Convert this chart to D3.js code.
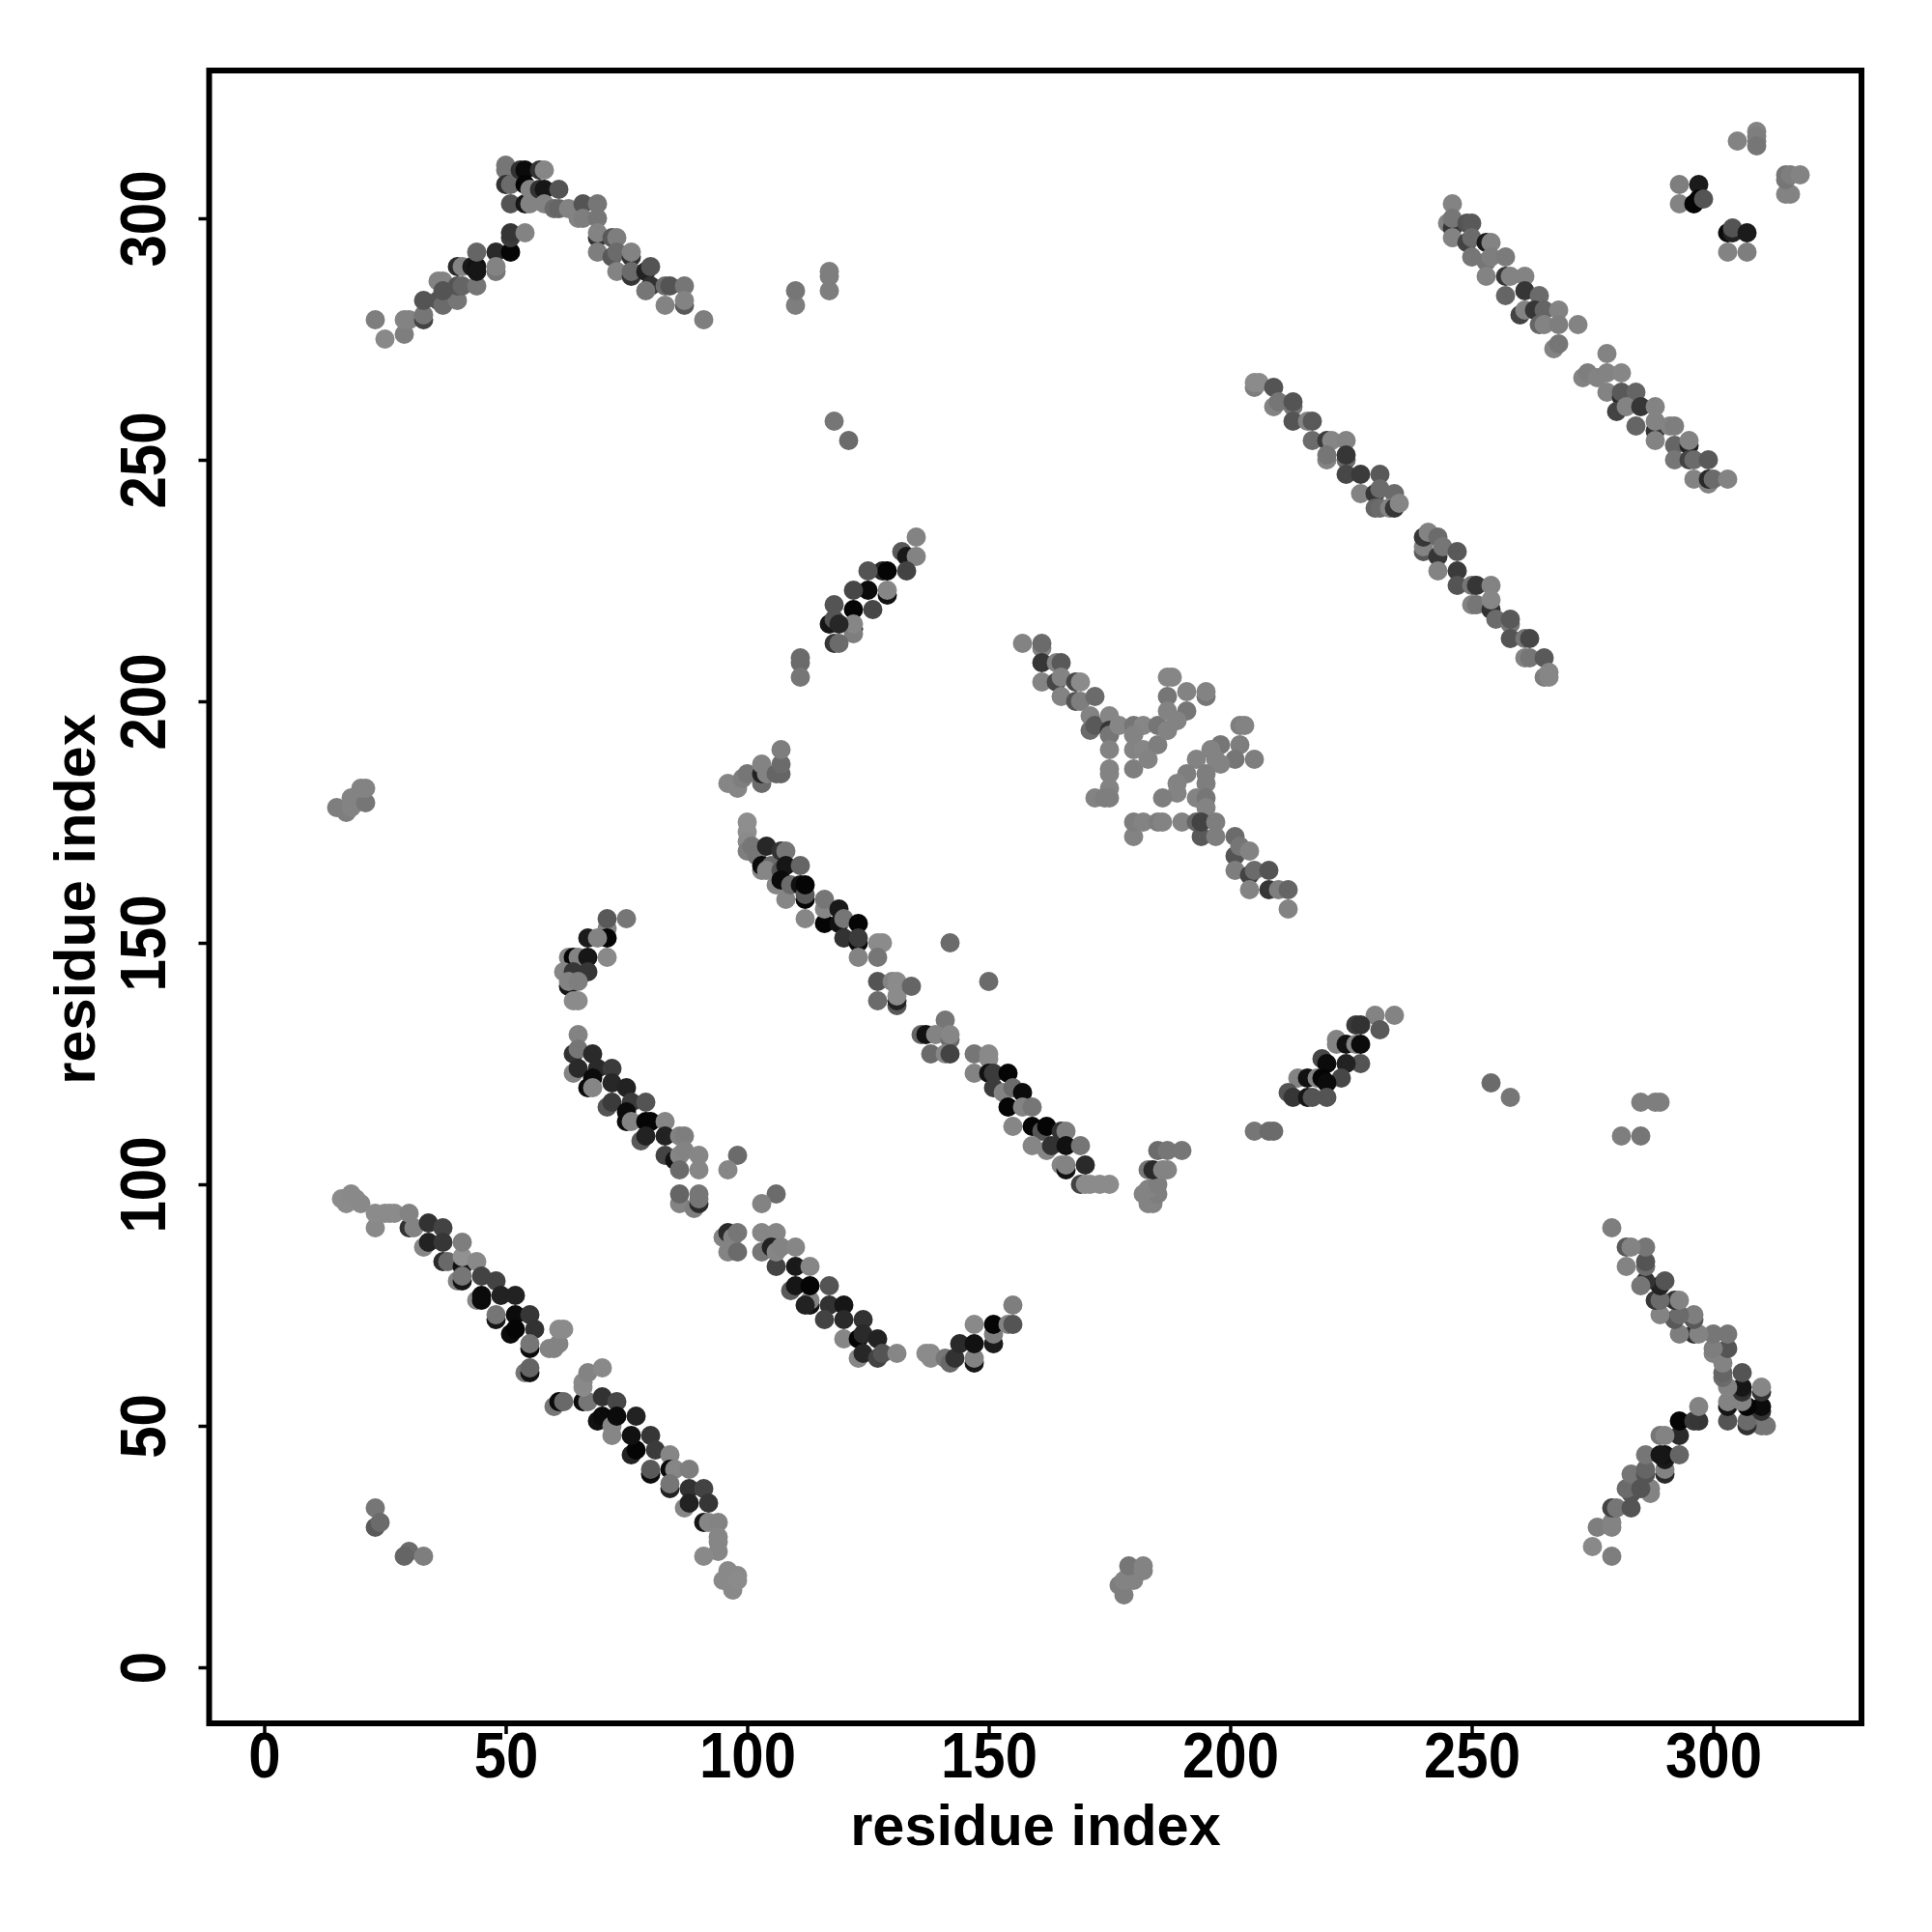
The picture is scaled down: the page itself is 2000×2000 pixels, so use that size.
<!DOCTYPE html>
<html><head><meta charset="utf-8">
<script src="https://cdn.jsdelivr.net/npm/d3@7"></script>
<style>html,body{margin:0;background:#fff}svg{display:block}</style></head>
<body><svg id="c" width="2000" height="2000"></svg>
<script>
const xTicks=[0,50,100,150,200,250,300];
const yTicks=[0,50,100,150,200,250,300];
const axisLabel="residue index";
// each point: [residue x, residue y, gray level]
const strandA=[[16,97,132],[19,97,132],[17,96,132],[20,96,130],[18,98,130],[23,91,130],[23,94,132],[25,94,132],[26,94,132],[27,94,132],[30,91,48],[31,91,125],[30,94,125],[33,87,128],[34,88,32],[34,92,48],[37,91,64],[37,88,51],[37,84,40],[38,84,100],[41,83,16],[41,85,138],[41,88,120],[44,84,130],[40,80,125],[41,80,21],[41,81,112],[45,81,64],[48,80,64],[44,76,128],[45,76,10],[45,77,10],[48,72,21],[48,73,112],[49,77,32],[52,77,32],[51,69,10],[52,73,10],[55,73,51],[52,70,5],[56,70,48],[55,66,10],[55,67,112],[59,66,125],[60,66,125],[61,67,125],[61,70,132],[62,70,132],[54,61,112],[55,61,16],[55,62,96],[60,54,112],[61,55,10],[62,55,100],[66,55,10],[67,55,112],[66,58,132],[66,59,130],[67,61,125],[70,62,130],[70,56,48],[73,55,68],[69,51,16],[70,52,10],[72,48,128],[72,50,128],[73,52,10],[77,52,32],[76,44,32],[77,45,5],[76,48,16],[80,48,51],[81,45,56],[84,44,128],[80,40,10],[80,41,85],[84,41,10],[85,41,128],[88,41,120],[84,37,32],[84,38,112],[87,33,128],[88,37,48],[88,34,32],[91,37,64],[92,34,51],[91,30,21],[92,30,128],[94,30,125],[94,27,128],[94,26,128],[94,24,128],[91,23,130],[96,20,130],[95,18,130],[97,16,130],[98,19,130],[98,18,132],
[23,33,112],[23,29,85],[24,30,102],[30,24,102],[29,23,96],[33,23,120]];
const strandB=[[75,155,112],[71,153,125],[71,155,85],[67,151,26],[71,151,5],[69,151,125],[71,147,130],[63,147,128],[64,147,5],[65,147,125],[67,147,21],[62,144,128],[64,144,51],[67,144,51],[63,141,21],[63,142,125],[65,142,120],[64,138,132],[65,138,132],
[65,131,125],[64,127,48],[65,128,112],[68,127,40],[64,123,125],[65,124,40],[69,124,40],[72,124,56],[68,122,10],[67,120,10],[68,120,128],[72,121,37],[75,120,32],[71,116,80],[72,117,56],[76,117,56],[79,117,80],[75,115,10],[75,113,10],[76,113,125],[79,113,5],[80,113,5],[83,113,128],[78,109,85],[79,110,32],[83,110,32],[86,110,125],[87,110,120],[83,106,64],[85,105,16],[86,106,128],[87,107,125],[90,106,128],[86,103,102],[90,103,128],[98,106,102],[96,103,128],
[86,96,125],[86,98,96],[89,95,120],[90,96,40],[90,97,112],[90,98,112],[106,98,102],[103,96,125],[95,89,125],[96,90,40],[97,89,125],[98,90,112],[96,86,125],[98,86,102],[103,90,128],[106,90,128],[103,86,112],[106,83,64],[105,87,32],[106,86,128],[107,87,125],[110,83,24],[110,87,128],[113,83,128],[109,78,85],[110,79,21],[113,75,16],[113,76,125],[113,79,5],[117,79,80],[112,75,32],[117,75,48],[120,75,21],[116,72,64],[120,72,40],[124,72,48],[120,68,128],[123,68,5],[124,69,40],[127,68,32],[123,64,128],[124,65,37],[127,64,64],[128,65,80],[131,65,128],
[137,65,132],[138,65,132],[138,64,132],[141,64,112],[142,63,100],[143,64,48],[144,67,40],[147,63,21],[147,64,125],[147,67,16],[147,71,130],[151,67,26],[151,69,120],[151,71,5],[154,71,125],[155,71,80],[155,75,120]];
const strandC=[[100,175,135],[100,173,135],[100,171,132],[100,169,120],[101,170,112],[102,168,112],[103,165,128],[103,166,10],[104,170,37],[105,166,102],[104,165,128],[107,169,48],[108,169,112],[107,165,80],[108,166,21],[111,166,96],[106,162,128],[107,163,10],[108,159,128],[109,162,102],[111,162,16],[112,159,5],[112,160,85],[112,162,5],[112,155,128],[116,154,5],[116,157,128],[116,159,112],[119,154,16],[119,157,24],[120,155,112],[123,154,5],[120,151,48],[123,150,10],[123,151,56],[127,150,132],[128,150,132],[123,147,125],[127,147,112],
[127,138,102],[127,142,80],[131,137,85],[131,138,32],[130,142,125],[131,139,132],[131,141,132],[131,142,132],[134,141,96],[142,150,102],[150,142,102],
[141,134,112],[136,131,96],[137,131,16],[139,131,125],[142,130,102],[142,131,128],[138,127,102],[141,127,128],[142,127,64],[147,127,112],[150,127,130],[150,126,130],[147,123,125],[150,123,16],[151,123,56],[154,123,5],[151,120,56],[153,119,125],[155,120,102],[157,119,10],[154,116,5],[157,116,125],[159,116,112],[155,112,128],
[159,112,5],[161,111,80],[162,112,5],[159,108,128],[162,107,128],[163,108,48],[165,111,48],[166,111,120],[166,108,16],[169,108,112],[165,104,128],[166,103,16],[166,104,125],[170,104,40],[169,100,64],[170,100,132],[171,100,132],[173,100,132],[175,100,132]];
const strandD=[[157,212,125],[161,211,125],[161,212,102],[161,208,51],[161,204,125],[164,208,125],[165,208,85],[164,204,68],[165,205,125],[165,201,125],[168,204,68],[169,204,132],[168,200,80],[169,200,120],[172,201,102],[171,197,125],[171,194,102],[172,195,85],[175,197,128],[175,194,51],[175,193,112],[175,190,125],[175,186,125],[175,185,125],[175,182,125],[172,180,125],[174,180,120],[175,180,120],
[177,195,128],[180,195,112],[182,195,128],[185,195,112],[180,193,125],[187,194,125],[180,190,125],[182,190,128],[185,191,120],[180,186,120],[183,188,125],[187,205,128],[188,205,128],[187,201,112],[191,202,125],[195,201,112],[195,202,125],[191,198,112],[187,198,125],[189,196,125],[187,194,125],
[202,195,120],[203,195,125],[198,191,112],[202,191,120],[196,190,125],[197,188,125],[205,188,120],[201,188,112],[198,187,125],[193,188,125],[195,185,120],[191,185,120],[189,183,125],[195,183,120],[189,181,125],[186,180,120],[193,180,125],[195,180,112],[195,178,125],
[180,172,125],[180,175,120],[182,175,125],[185,175,120],[186,175,125],[190,175,125],[193,175,96],[194,172,85],[194,175,64],[197,175,120],[197,172,120],[201,172,102],[201,168,80],[202,170,112],[204,169,125],[201,165,120],[204,164,64],[205,165,102],[208,165,80],[204,161,125],[208,161,51],[210,161,120],[212,161,96],[212,157,125]];
const strandE=[[205,265,120],[205,266,132],[206,266,132],[209,265,80],[209,261,125],[210,262,112],[213,261,112],[213,262,80],[213,258,80],[216,258,125],[217,258,85],[217,254,102],[220,254,56],[221,254,128],[224,254,125],[220,250,125],[220,251,112],[224,250,102],[224,251,51],[224,247,68],[227,247,56],[231,247,85],[227,243,125],[230,243,51],[231,244,102],[234,243,102],[230,240,96],[231,240,102],[233,240,125],[234,240,51],[235,241,128],
[240,231,85],[240,232,125],[240,234,51],[241,235,125],[243,234,102],[243,230,51],[244,232,112],[247,231,85],[243,227,125],[247,227,56],[247,224,80],[250,224,112],[251,224,51],[254,224,125],[250,220,125],[251,220,112],[254,219,48],[254,221,128],[255,217,102],[258,216,112],[258,217,85],[258,213,80],[261,213,112],[262,213,68],[261,209,125],[262,209,112],[265,209,85],[265,205,120],[266,205,128],[266,206,128]];
const strandF=[[246,303,125],[245,299,125],[246,298,51],[246,300,112],[246,296,125],[249,299,80],[250,299,85],[249,295,64],[250,296,102],[250,292,112],[253,295,26],[254,295,125],[253,291,112],[254,292,120],[257,292,117],[253,288,125],[257,288,51],[258,288,125],[261,288,125],[257,284,96],[261,285,51],[264,284,102],[260,280,64],[261,281,125],[263,281,51],[265,281,96],[268,281,125],[264,278,96],[265,278,125],[268,278,120],[272,278,125],[267,273,125],[268,274,112],
[278,272,125],[273,267,125],[274,268,120],[276,267,125],[278,268,125],[281,268,128],[278,264,125],[281,263,40],[281,264,85],[284,264,96],[280,260,64],[282,261,125],[285,261,51],[288,261,125],[284,257,96],[288,256,48],[288,258,125],[291,257,125],[292,257,120],[288,254,125],[292,253,96],[295,253,32],[295,254,125],[292,250,112],[295,250,64],[296,250,102],[299,250,85],[296,246,125],[299,245,125],[299,246,40],[300,246,102],[303,246,125]];
const cornerCluster=[[293,307,120],[297,307,26],[293,303,125],[296,303,5],[297,304,5],[298,304,80],[303,293,125],[307,293,120],[303,297,10],[304,297,32],[304,298,80],[307,297,26],
[305,316,125],[309,318,125],[309,317,120],[309,316,120],[309,315,112],[315,305,125],[316,305,125],[315,308,112],[315,309,112],[316,309,120],[318,309,125]];
const upperArm=[[23,279,120],[25,275,130],[29,276,120],[29,279,125],[30,279,125],[33,279,64],[33,280,112],[33,283,80],[36,283,80],[37,282,102],[40,283,112],[36,287,125],[37,287,125],[37,285,80],[40,286,80],[41,286,96],[44,286,112],[40,290,40],[41,290,125],[43,290,24],[44,290,16],[44,289,21],[44,293,96],[48,293,40],[51,293,5],[48,289,112],[48,290,125],[51,296,56],[51,297,51],[54,297,125],
[51,303,80],[50,310,112],[50,311,112],[50,307,48],[51,307,102],[53,310,48],[54,310,10],[57,310,48],[58,310,128],[54,307,5],[54,303,21],[55,306,125],[55,303,125],[57,306,48],[58,306,21],[61,306,80],[58,303,125],[60,302,102],[61,302,96],[63,302,125],[65,300,125],[66,303,80],[66,300,120],[69,303,112],[69,300,112],
[69,296,48],[69,297,125],[69,293,120],[72,296,85],[73,296,120],[72,292,85],[73,293,102],[76,292,48],[76,293,125],[73,289,125],[76,288,51],[76,289,102],[79,289,32],[80,290,80],[80,286,48],[79,285,112],[83,286,102],[84,286,80],[87,286,112],[83,282,125],[87,282,85],[87,283,125],[91,279,120]];
const lowerArm=[[279,23,120],[275,25,130],[276,29,120],[279,29,125],[279,30,125],[279,33,64],[280,33,112],[283,33,80],[283,36,80],[282,37,102],[283,40,112],[287,36,125],[287,37,125],[285,37,80],[286,40,80],[286,41,96],[286,44,112],[290,40,40],[290,41,125],[290,43,24],[290,44,16],[289,44,21],[293,44,96],[293,48,40],[293,51,5],[289,48,112],[290,48,125],[296,51,56],[297,51,51],[297,54,125],
[303,51,80],[310,50,112],[311,50,112],[307,50,48],[307,51,102],[310,53,48],[310,54,10],[310,57,48],[310,58,128],[307,54,5],[303,54,21],[306,55,125],[303,55,125],[306,57,48],[306,58,21],[306,61,80],[303,58,125],[302,60,102],[302,61,96],[302,63,125],[300,65,125],[303,66,80],[300,66,120],[303,69,112],[300,69,112],
[296,69,48],[297,69,125],[293,69,120],[296,72,85],[296,73,120],[292,72,85],[293,73,102],[292,76,48],[293,76,125],[289,73,125],[288,76,51],[289,76,102],[289,79,32],[290,80,80],[286,80,48],[285,79,112],[286,83,102],[286,84,80],[286,87,112],[282,83,125],[282,87,85],[283,87,125],[279,91,120]];
const helixUp=[[135,234,125],[132,231,85],[133,230,24],[135,230,125],[133,227,64],[128,227,37],[129,227,5],[125,227,80],[129,222,16],[129,223,128],[125,223,10],[126,219,68],[122,223,68],[118,220,80],[122,219,5],[122,215,16],[122,214,120],[122,216,128],[117,216,21],[118,217,80],[119,216,37],[118,212,51],[119,212,102],[111,209,102],[111,208,102],[111,205,112]];
const helixDown=[[230,135,125],[234,135,125],[226,133,56],[227,133,48],[231,132,85],[222,129,125],[222,130,125],[224,129,16],[226,129,125],[227,129,10],[227,125,80],[224,125,32],[219,126,68],[220,125,10],[223,122,68],[214,122,125],[216,122,16],[218,122,125],[219,122,5],[220,121,10],[212,119,80],[213,118,51],[216,118,21],[217,118,80],[220,118,80],[205,111,112],[208,111,102],[209,111,102]];
const stragglers=[[15,178,120],[17,177,120],[18,178,125],[18,180,125],[19,179,125],[21,179,112],[20,182,125],[21,182,125],
[178,15,120],[177,17,120],[178,18,125],[180,18,125],[179,19,125],[179,21,112],[182,20,125],[182,21,125],
[96,183,128],[98,182,128],[99,184,120],[100,185,112],[103,183,102],[103,185,32],[104,185,125],[103,187,125],[106,185,96],[107,185,96],[107,187,102],[107,190,120],
[183,96,125],[184,96,125],[182,98,125],[185,98,120],[183,99,125],[185,100,120],[183,103,112],[184,103,40],[186,103,125],[187,103,125],[185,107,102],[187,107,112],[190,107,112],
[110,282,120],[110,285,112],[117,285,120],[117,288,120],[117,289,120],[118,258,112],[121,254,102],[254,121,102],[258,118,112],[281,110,120],[285,110,112],[285,117,120],[288,117,120],[289,117,120]];

const groups=[stragglers,strandA,strandB,strandC,strandD,strandE,strandF,cornerCluster,upperArm,lowerArm,helixUp,helixDown];
const svg=d3.select("#c");
const x=d3.scaleLinear().domain([-11.4,330.7]).range([216.5,1927]);
const y=d3.scaleLinear().domain([-11.6,330.6]).range([1784,73]);
const shade=d3.scaleLinear().domain([0,140]).range([0,147]);
const font="'Liberation Sans',Arial,sans-serif";
svg.append("g").selectAll("g").data(groups).join("g")
  .selectAll("circle").data(d=>d).join("circle")
  .attr("cx",d=>x(d[0])).attr("cy",d=>y(d[1])).attr("r",10)
  .attr("fill",d=>{const v=shade(d[2]);return d3.rgb(v,v,v);});
const gx=svg.append("g").attr("transform","translate(0,1784)")
  .call(d3.axisBottom(x).tickValues(xTicks).tickSize(11).tickPadding(3).tickFormat(d3.format("d")));
const gy=svg.append("g").attr("transform","translate(216.5,0)")
  .call(d3.axisLeft(y).tickValues(yTicks).tickSize(11).tickFormat(d3.format("d")));
[gx,gy].forEach(g=>{g.select(".domain").remove();
  g.selectAll("line").attr("stroke","#000").attr("stroke-width",3.5);
  g.selectAll("text").attr("fill","#000").attr("font-family",font).attr("font-weight",700).attr("font-size",60);});
gx.selectAll("text").attr("dy",null).attr("y",null).attr("transform","translate(0,56) scale(1,1.12)");
gy.selectAll("text").attr("x",null).attr("dy",null).attr("text-anchor","middle")
  .attr("transform","translate(-46,0) rotate(-90) scale(1,1.12)");
svg.append("rect").attr("x",216.5).attr("y",73).attr("width",1710.5).attr("height",1711)
  .attr("fill","none").attr("stroke","#000").attr("stroke-width",6);
svg.append("text").attr("x",1072).attr("y",1910).attr("text-anchor","middle").attr("font-family",font).attr("font-weight",700).attr("font-size",59.5).text(axisLabel);
svg.append("text").attr("transform","translate(98,931) rotate(-90)").attr("text-anchor","middle").attr("font-family",font).attr("font-weight",700).attr("font-size",59.5).text(axisLabel);
</script></body></html>
